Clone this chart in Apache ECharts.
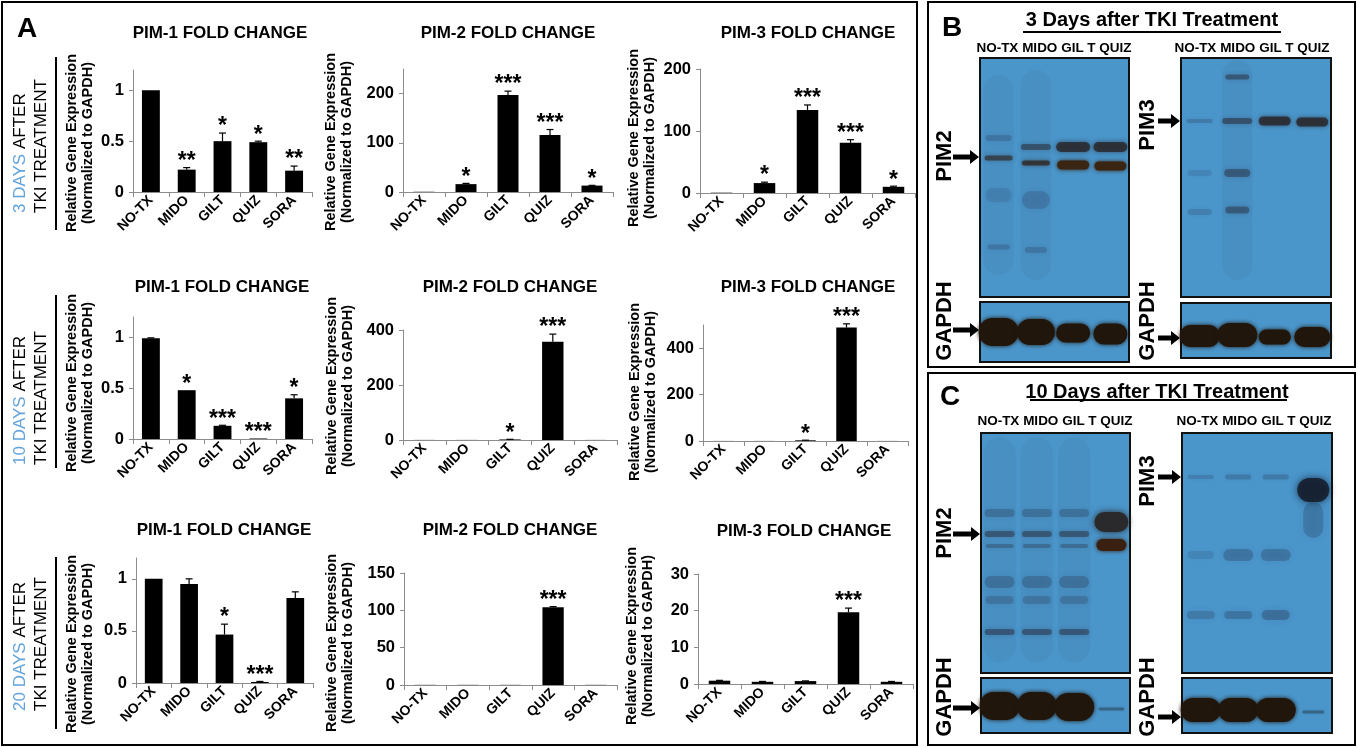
<!DOCTYPE html>
<html><head><meta charset="utf-8">
<script src="https://cdn.jsdelivr.net/npm/echarts@6/dist/echarts.min.js"></script>
<style>html,body{margin:0;padding:0;background:#fff}#c{width:1358px;height:748px}</style>
</head><body><div id="c"></div><script>
// ---------------- DATA ----------------
const categories = ['NO-TX', 'MIDO', 'GILT', 'QUIZ', 'SORA'];

// 3 days after TKI treatment
const day3Pim1 = [1.00, 0.22, 0.50, 0.49, 0.21];
const day3Pim1Err = [0, 0.02, 0.08, 0.01, 0.045];
const day3Pim1Sig = ['', '**', '*', '*', '**'];
const day3Pim2 = [0.5, 16, 197, 116, 13];
const day3Pim2Err = [0, 1.5, 8, 11, 0.5];
const day3Pim2Sig = ['', '*', '***', '***', '*'];
const day3Pim3 = [0.5, 16, 134, 81, 10];
const day3Pim3Err = [0, 1.5, 8, 5, 1];
const day3Pim3Sig = ['', '*', '***', '***', '*'];

// 10 days after TKI treatment
const day10Pim1 = [0.99, 0.48, 0.13, 0.005, 0.40];
const day10Pim1Err = [0.005, 0, 0.005, 0, 0.035];
const day10Pim1Sig = ['', '*', '***', '***', '*'];
const day10Pim2 = [0.3, 0.3, 2, 357, 0.3];
const day10Pim2Err = [0, 0, 0.5, 28, 0];
const day10Pim2Sig = ['', '', '*', '***', ''];
const day10Pim3 = [0.3, 0.3, 3, 489, 0.3];
const day10Pim3Err = [0, 0, 0.5, 16, 0];
const day10Pim3Sig = ['', '', '*', '***', ''];

// 20 days after TKI treatment
const day20Pim1 = [1.00, 0.95, 0.465, 0.01, 0.815];
const day20Pim1Err = [0, 0.05, 0.10, 0.005, 0.06];
const day20Pim1Sig = ['', '', '*', '***', ''];
const day20Pim2 = [0.2, 0.2, 0.2, 104, 0.2];
const day20Pim2Err = [0, 0, 0, 1, 0];
const day20Pim2Sig = ['', '', '', '***', ''];
const day20Pim3 = [0.9, 0.6, 0.8, 19.6, 0.6];
const day20Pim3Err = [0.1, 0.1, 0.05, 1.1, 0.1];
const day20Pim3Sig = ['', '', '', '***', ''];

// axis ticks and ranges
const pim1Ticks = [0, 0.5, 1];
const pim1Max = 1.2;
const day3Pim2Ticks = [0, 100, 200];
const day3Pim2Max = 250;
const day3Pim3Ticks = [0, 100, 200];
const day3Pim3Max = 200;
const day10Pim2Ticks = [0, 200, 400];
const day10Pim2Max = 400;
const day10Pim3Ticks = [0, 200, 400];
const day10Pim3Max = 500;
const day20Pim2Ticks = [0, 50, 100, 150];
const day20Pim2Max = 150;
const day20Pim3Ticks = [0, 10, 20, 30];
const day20Pim3Max = 30;

const titlePim1 = 'PIM-1 FOLD CHANGE';
const titlePim2 = 'PIM-2 FOLD CHANGE';
const titlePim3 = 'PIM-3 FOLD CHANGE';
const yAxisTitle = 'Relative Gene Expression\n(Normalized to GAPDH)';
const rowDays = ['3 DAYS', '10 DAYS', '20 DAYS'];
const laneLabels = 'NO-TX MIDO GIL T QUIZ';

// ---------------- LAYOUT ----------------
const FONT = '"Liberation Sans", Arial, Helvetica, sans-serif';
const charts = [
  {t: titlePim1, v: day3Pim1, e: day3Pim1Err, s: day3Pim1Sig, ticks: pim1Ticks, max: pim1Max},
  {t: titlePim2, v: day3Pim2, e: day3Pim2Err, s: day3Pim2Sig, ticks: day3Pim2Ticks, max: day3Pim2Max},
  {t: titlePim3, v: day3Pim3, e: day3Pim3Err, s: day3Pim3Sig, ticks: day3Pim3Ticks, max: day3Pim3Max},
  {t: titlePim1, v: day10Pim1, e: day10Pim1Err, s: day10Pim1Sig, ticks: pim1Ticks, max: pim1Max},
  {t: titlePim2, v: day10Pim2, e: day10Pim2Err, s: day10Pim2Sig, ticks: day10Pim2Ticks, max: day10Pim2Max},
  {t: titlePim3, v: day10Pim3, e: day10Pim3Err, s: day10Pim3Sig, ticks: day10Pim3Ticks, max: day10Pim3Max},
  {t: titlePim1, v: day20Pim1, e: day20Pim1Err, s: day20Pim1Sig, ticks: pim1Ticks, max: pim1Max},
  {t: titlePim2, v: day20Pim2, e: day20Pim2Err, s: day20Pim2Sig, ticks: day20Pim2Ticks, max: day20Pim2Max},
  {t: titlePim3, v: day20Pim3, e: day20Pim3Err, s: day20Pim3Sig, ticks: day20Pim3Ticks, max: day20Pim3Max}
];
// [left, top, right, bottom] of each plot area
const boxes = [
  [133, 70, 312, 192], [403, 69, 613, 192], [700, 69, 915, 193],
  [133, 317, 312, 439], [403, 330, 617, 440], [703, 325, 908, 441],
  [136, 558, 313, 683], [404, 573, 617, 685], [698, 574, 913, 684]
];
// [titleX, titleY, yNameX, yNameY]
const labelPos = [
  [220, 33, 80, 143], [508, 33, 339, 142], [808, 33, 642, 138],
  [222, 287, 80, 383], [510, 287, 340, 386], [808, 287, 643, 392],
  [224, 530, 80, 644], [510, 530, 340, 643], [804, 531, 640, 636]
];
// row label: [bottomY, lineTop, lineBottom]
const rowPos = [[213, 57, 230], [465, 295, 468], [711, 557, 729]];

const AXIS_GRAY = '#8c8c8c';
const grids = [], xAxes = [], yAxes = [], series = [];
charts.forEach((c, k) => {
  const b = boxes[k];
  grids.push({left: b[0], top: b[1], width: b[2] - b[0], height: b[3] - b[1], containLabel: false, outerBoundsMode: 'none'});
  xAxes.push({
    type: 'category', gridIndex: k, data: categories, boundaryGap: true,
    axisLine: {show: true, lineStyle: {color: AXIS_GRAY, width: 1}},
    axisTick: {show: true, length: 5, inside: false, alignWithLabel: false, lineStyle: {color: AXIS_GRAY}},
    axisLabel: {show: true, rotate: 45, interval: 0, margin: 6, color: '#000', fontWeight: 'bold', fontSize: 14, fontFamily: FONT},
    splitLine: {show: false}
  });
  yAxes.push({
    type: 'value', gridIndex: k, min: 0, max: c.max,
    axisLine: {show: true, lineStyle: {color: AXIS_GRAY, width: 1}},
    axisTick: {show: true, length: 4, inside: false, customValues: c.ticks, lineStyle: {color: AXIS_GRAY}},
    axisLabel: {show: true, customValues: c.ticks, margin: 9, color: '#000', fontWeight: 'bold', fontSize: 16.5, fontFamily: FONT},
    splitLine: {show: false}
  });
  series.push({
    type: 'bar', xAxisIndex: k, yAxisIndex: k, data: c.v, barWidth: '50%',
    itemStyle: {color: '#000'}, silent: true, animation: false
  });
  const sig = c.s;
  series.push({
    type: 'custom', xAxisIndex: k, yAxisIndex: k, animation: false, silent: true, z: 5,
    data: c.v.map((v, i) => [i, v, c.e[i]]),
    encode: {x: 0, y: 1},
    renderItem: function (params, api) {
      const i = api.value(0), v = api.value(1), e = api.value(2);
      const base = api.coord([i, v]);
      const top = api.coord([i, v + e]);
      const ch = [];
      if (e > 0) {
        ch.push({type: 'line', shape: {x1: base[0], y1: base[1], x2: top[0], y2: top[1]}, style: {stroke: '#000', lineWidth: 1.2}});
        ch.push({type: 'line', shape: {x1: top[0] - 3.5, y1: top[1], x2: top[0] + 3.5, y2: top[1]}, style: {stroke: '#000', lineWidth: 1.2}});
      }
      const s = sig[params.dataIndex];
      if (s) {
        ch.push({type: 'text', x: top[0], y: top[1] - 6,
          style: {text: s, font: 'bold 23px ' + FONT, fill: '#000', align: 'center', verticalAlign: 'middle', textAlign: 'center', textVerticalAlign: 'middle'}});
      }
      return {type: 'group', children: ch};
    }
  });
});

// ---------------- GRAPHICS ----------------
const G = [];
function txt(x, y, text, font, opts) {
  opts = opts || {};
  const a = opts.align || 'center', va = opts.va || 'middle';
  G.push({type: 'text', x: x, y: y, rotation: opts.rot || 0, silent: true,
    style: Object.assign({text: text, font: font, fill: opts.fill || '#000', align: a, verticalAlign: va, textAlign: a, textVerticalAlign: va, lineHeight: opts.lh || undefined}, opts.extra || {})});
}
function rect(x, y, w, h, stroke, lw, fill) {
  G.push({type: 'rect', silent: true, shape: {x: x, y: y, width: w, height: h},
    style: {fill: fill || 'none', stroke: stroke, lineWidth: lw}});
}
function line(x1, y1, x2, y2, lw) {
  G.push({type: 'line', silent: true, shape: {x1: x1, y1: y1, x2: x2, y2: y2}, style: {stroke: '#000', lineWidth: lw}});
}
function arrow(x0, x1, y) {
  G.push({type: 'polygon', silent: true, shape: {points: [[x0, y - 2.5], [x1 - 9, y - 2.5], [x1 - 9, y - 7], [x1, y], [x1 - 9, y + 7], [x1 - 9, y + 2.5], [x0, y + 2.5]]},
    style: {fill: '#000'}});
}

// Panel borders
rect(2, 2, 915, 743, '#000', 2);
rect(928, 2, 427, 365, '#000', 2);
rect(928, 373, 427, 372, '#000', 2);
txt(27, 29, 'A', 'bold 28px ' + FONT);

// Chart titles and y axis names
charts.forEach((c, k) => {
  const p = labelPos[k];
  txt(p[0], p[1], c.t, 'bold 17px ' + FONT);
  txt(p[2], p[3], yAxisTitle, 'bold 14.5px ' + FONT, {rot: Math.PI / 2, lh: 16});
});
// Row labels
rowDays.forEach((d, r) => {
  const rp = rowPos[r];
  G.push({type: 'text', x: 31, y: rp[0], rotation: Math.PI / 2, silent: true,
    style: {text: '{b|' + d + '} AFTER\nTKI TREATMENT', font: '17px ' + FONT, fill: '#000', align: 'left', verticalAlign: 'middle', textAlign: 'left', textVerticalAlign: 'middle', lineHeight: 21,
      rich: {b: {fill: '#62a3dc', font: '17px ' + FONT, lineHeight: 21}}}});
  line(56, rp[1], 56, rp[2], 2);
});

// ---------- Western blots (decorative images) ----------
const BLOT_BG = '#4a95ca';
function blot(x, y, w, h, bands) {
  rect(x, y, w, h, '#111', 2, BLOT_BG);
  const lw = w / 4;
  bands.forEach(b => {
    const cx = x + lw * (b[0] + 0.5);
    G.push({type: 'rect', silent: true,
      shape: {x: cx - b[2] / 2, y: b[1] - b[3] / 2, width: b[2], height: b[3], r: Math.min(b[3], b[2]) / 2},
      style: {fill: b[4], shadowBlur: b[5], shadowColor: b[4]}});
  });
}
const smear = 'rgba(70,90,120,0.08)';
const faint = 'rgba(40,55,85,0.25)';
const mid = 'rgba(40,40,50,0.5)';
const dark = 'rgba(40,36,38,0.78)';
const brown = '#3a2412';
const gap = '#21160c';

// Panel B
txt(952, 28, 'B', 'bold 28px ' + FONT);
txt(1152, 20, '3 Days after TKI Treatment', 'bold 20px ' + FONT);
line(1023, 32, 1281, 32, 2);
txt(1054, 48, laneLabels, 'bold 13.5px ' + FONT);
txt(1252, 48, laneLabels, 'bold 13.5px ' + FONT);
blot(980, 58, 149, 239, [
  [0, 175, 30, 200, smear, 8], [1, 175, 30, 210, smear, 8],
  [0, 138, 26, 6, faint, 5], [0, 158, 28, 5, 'rgba(45,35,30,0.6)', 4], [0, 195, 26, 14, 'rgba(40,55,85,0.15)', 7], [0, 247, 22, 5, faint, 5],
  [1, 147, 30, 6, mid, 4], [1, 163, 28, 5, 'rgba(45,30,20,0.7)', 4], [1, 200, 28, 18, 'rgba(40,50,80,0.22)', 7], [1, 250, 22, 6, faint, 5],
  [2, 147, 34, 10, dark, 5], [2, 165, 32, 9, brown, 4],
  [3, 147, 34, 10, dark, 5], [3, 166, 32, 9, brown, 4]
]);
blot(980, 302, 149, 60, [
  [0, 332, 40, 28, gap, 4], [1, 332, 38, 26, gap, 4], [2, 333, 34, 19, gap, 4], [3, 334, 34, 21, gap, 4]
]);
blot(1181, 58, 150, 239, [
  [1, 170, 30, 220, smear, 8],
  [0, 121, 26, 4, faint, 4], [1, 121, 30, 6, mid, 4], [2, 121, 32, 9, dark, 4], [3, 122, 32, 9, dark, 4],
  [1, 77, 24, 5, 'rgba(40,40,50,0.45)', 4], [1, 173, 26, 8, 'rgba(40,45,60,0.45)', 5], [1, 210, 24, 7, 'rgba(40,45,60,0.45)', 5],
  [0, 173, 24, 6, 'rgba(40,55,85,0.15)', 5], [0, 212, 24, 6, 'rgba(40,55,85,0.2)', 5]
]);
blot(1181, 303, 150, 55, [
  [0, 336, 40, 22, gap, 4], [1, 335, 40, 24, gap, 4], [2, 337, 32, 15, gap, 4], [3, 337, 36, 20, gap, 4]
]);
txt(945, 156, 'PIM2', 'bold 22px ' + FONT, {rot: Math.PI / 2});
txt(945, 321, 'GAPDH', 'bold 22px ' + FONT, {rot: Math.PI / 2});
txt(1148, 125, 'PIM3', 'bold 22px ' + FONT, {rot: Math.PI / 2});
txt(1148, 321, 'GAPDH', 'bold 22px ' + FONT, {rot: Math.PI / 2});
arrow(953, 979, 157);
arrow(953, 979, 330);
arrow(1158, 1180, 121);
arrow(1158, 1180, 338);

// Panel C
txt(950, 397, 'C', 'bold 28px ' + FONT);
txt(1157, 392, '10 Days after TKI Treatment', 'bold 20px ' + FONT);
line(1030, 400, 1287, 400, 2);
txt(1055, 421, laneLabels, 'bold 13.5px ' + FONT);
txt(1254, 421, laneLabels, 'bold 13.5px ' + FONT);
const cLeft = [];
[0, 1, 2].forEach(i => {
  cLeft.push([i, 550, 32, 225, smear, 8], [i, 513, 30, 8, 'rgba(40,50,75,0.28)', 5], [i, 534, 30, 6, 'rgba(40,40,50,0.45)', 4],
    [i, 546, 28, 4, 'rgba(40,45,60,0.3)', 4], [i, 582, 30, 12, 'rgba(40,50,75,0.28)', 6], [i, 600, 28, 8, 'rgba(40,50,75,0.25)', 6],
    [i, 632, 30, 6, 'rgba(40,40,55,0.45)', 4]);
});
cLeft.push([3, 522, 34, 20, '#2a2a2c', 6], [3, 545, 30, 12, '#3a2010', 4]);
blot(981, 433, 149, 240, cLeft);
blot(981, 678, 149, 55, [
  [0, 706, 40, 28, gap, 4], [1, 706, 40, 28, gap, 4], [2, 707, 40, 28, gap, 4], [3, 709, 26, 3, 'rgba(30,30,30,0.35)', 3]
]);
blot(1182, 433, 150, 240, [
  [3, 520, 20, 36, 'rgba(30,50,80,0.25)', 8], [3, 490, 32, 24, 'rgba(20,30,45,0.88)', 7],
  [0, 477, 26, 4, 'rgba(40,55,85,0.2)', 4], [1, 477, 26, 5, faint, 4], [2, 477, 26, 5, faint, 4],
  [0, 555, 26, 8, 'rgba(40,55,85,0.15)', 6], [1, 555, 30, 12, 'rgba(40,55,85,0.3)', 6], [2, 555, 30, 12, 'rgba(40,55,85,0.3)', 6],
  [0, 615, 28, 8, faint, 6], [1, 615, 28, 8, 'rgba(40,55,85,0.3)', 6], [2, 615, 28, 10, 'rgba(40,55,85,0.35)', 6]
]);
blot(1182, 678, 150, 55, [
  [0, 710, 40, 24, gap, 4], [1, 710, 40, 24, gap, 4], [2, 710, 40, 24, gap, 4], [3, 712, 22, 3, 'rgba(30,30,30,0.35)', 3]
]);
txt(945, 533, 'PIM2', 'bold 22px ' + FONT, {rot: Math.PI / 2});
txt(945, 697, 'GAPDH', 'bold 22px ' + FONT, {rot: Math.PI / 2});
txt(1148, 481, 'PIM3', 'bold 22px ' + FONT, {rot: Math.PI / 2});
txt(1148, 697, 'GAPDH', 'bold 22px ' + FONT, {rot: Math.PI / 2});
arrow(953, 980, 534);
arrow(953, 980, 708);
arrow(1158, 1181, 477);
arrow(1158, 1181, 717);

// ---------------- CHART ----------------
const chart = echarts.init(document.getElementById('c'), null, {renderer: 'canvas'});
chart.setOption({
  backgroundColor: '#fff',
  animation: false,
  textStyle: {fontFamily: FONT},
  grid: grids,
  xAxis: xAxes,
  yAxis: yAxes,
  series: series,
  graphic: G
});
</script></body></html>
